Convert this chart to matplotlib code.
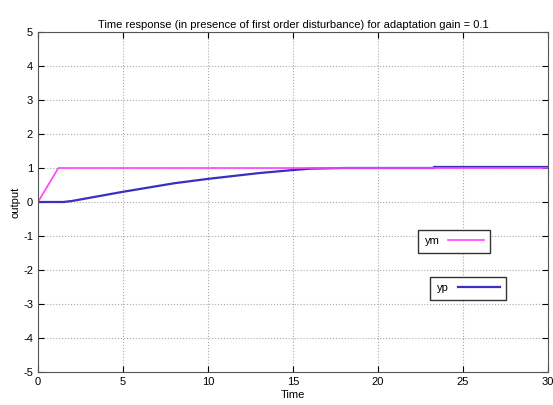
import matplotlib.pyplot as plt

# reference signal and plant output
t_ym = [0, 1.2, 30]
ym = [0, 1.0, 1.0]

t_yp = [0, 1.5, 2, 5, 8, 10, 13, 15, 16, 18, 23.3, 23.3, 30]
yp = [0, 0, 0.03, 0.3, 0.55, 0.68, 0.85, 0.94, 0.98, 1.0, 1.0, 1.03, 1.03]

xticks = [0, 5, 10, 15, 20, 25, 30]
yticks = [-5, -4, -3, -2, -1, 0, 1, 2, 3, 4, 5]

plt.rcParams['font.family'] = ['Liberation Sans Narrow', 'Liberation Sans', 'DejaVu Sans']
plt.rcParams['font.size'] = 8
plt.rcParams['axes.unicode_minus'] = False

fig = plt.figure(figsize=(5.53, 4.05), dpi=100)
ax = fig.add_axes([0.0687, 0.0815, 0.922, 0.8395])

l_yp, = ax.plot(t_yp, yp, color='#3a2fc0', lw=1.6)
l_ym, = ax.plot(t_ym, ym, color='#ff40ff', lw=1.2)

ax.set_xlim(0, 30)
ax.set_ylim(-5, 5)
ax.set_xticks(xticks)
ax.set_yticks(yticks)
ax.grid(True, color='#aaaaaa', linestyle=':', linewidth=0.8)
ax.tick_params(direction='in', top=True, right=True, length=4, labelsize=8)
for s in ax.spines.values():
    s.set_color('#555555')

ax.set_title('Time response (in presence of first order disturbance) for adaptation gain = 0.1',
             fontsize=8, pad=3)
ax.set_xlabel('Time', labelpad=2)
ax.set_ylabel('output', labelpad=2)

leg1 = ax.legend([l_ym], ['ym'], loc='lower left', bbox_to_anchor=(0.745, 0.35),
                 fancybox=False, edgecolor='#333333', framealpha=1, handlelength=3.2,
                 borderpad=0.6, borderaxespad=0, markerfirst=False, fontsize=8)
ax.add_artist(leg1)
ax.legend([l_yp], ['yp'], loc='lower left', bbox_to_anchor=(0.769, 0.212),
          fancybox=False, edgecolor='#333333', framealpha=1, handlelength=3.8,
          borderpad=0.6, borderaxespad=0, markerfirst=False, fontsize=8)

plt.savefig('out.png', dpi=100)
